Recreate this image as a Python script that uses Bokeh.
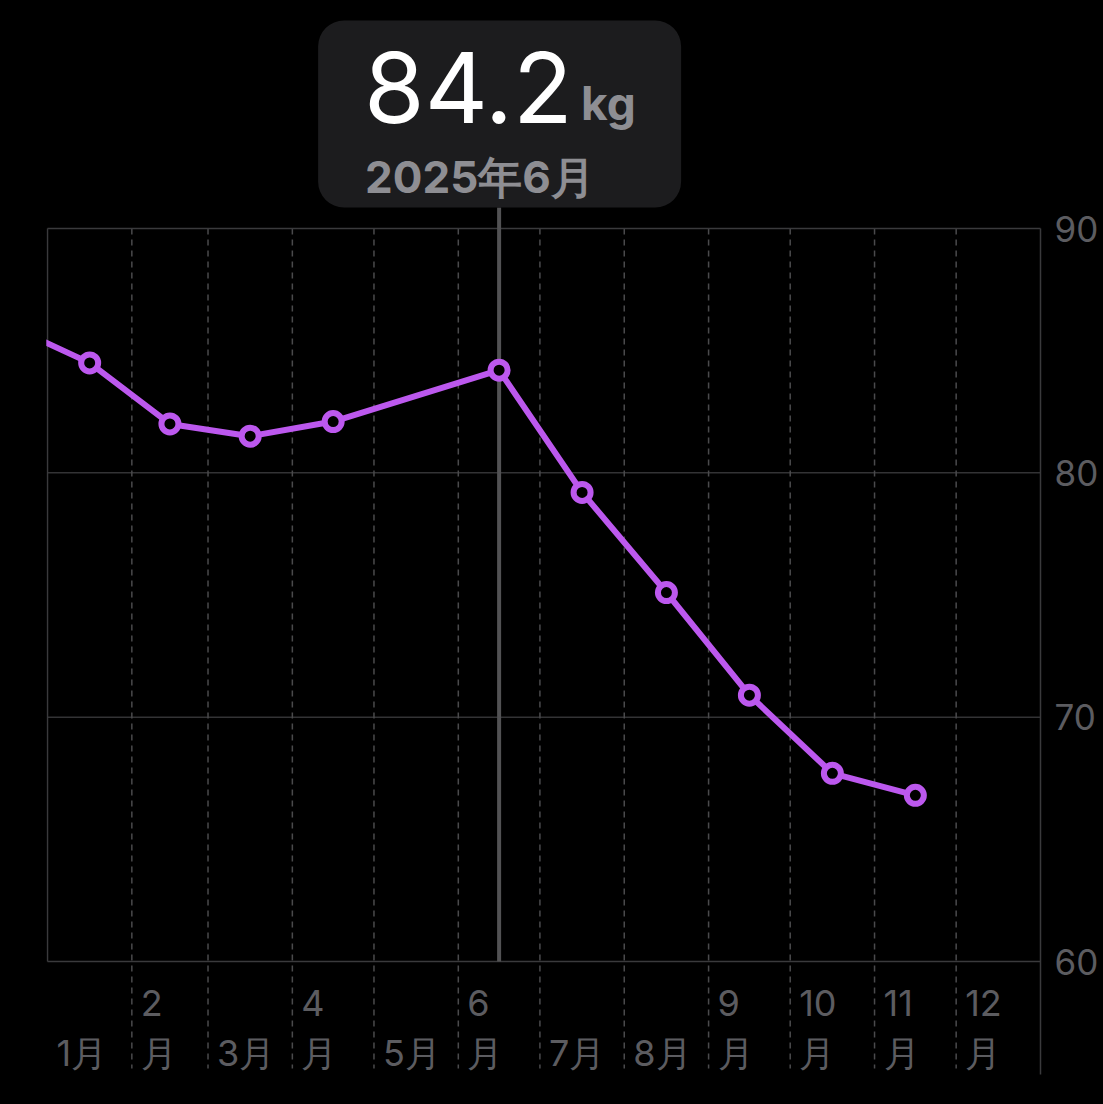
import pandas as pd
from bokeh.plotting import figure
from bokeh.models import (Range1d, Label, BoxAnnotation, ColumnDataSource,
                          CDSView, BooleanFilter)
from bokeh.core.properties import value
from bokeh.embed import file_html
from bokeh.resources import INLINE

# ---------------- data ----------------
months = ["2024-12", "2025-01", "2025-02", "2025-03", "2025-04", "2025-06",
          "2025-07", "2025-08", "2025-09", "2025-10", "2025-11"]
weights = [86.1, 84.5, 82.0, 81.5, 82.1, 84.2, 79.2, 75.1, 70.9, 67.7, 66.8]
axis_months = ["2025-01", "2025-02", "2025-03", "2025-04", "2025-05", "2025-06",
               "2025-07", "2025-08", "2025-09", "2025-10", "2025-11", "2025-12"]
axis_labels = ["1月", "2\n月", "3月", "4\n月", "5月", "6\n月",
               "7月", "8月", "9\n月", "10\n月", "11\n月", "12\n月"]
y_ticks = [60, 70, 80, 90]
selected = "2025-06"
unit = "kg"

# ---------------- style / geometry ----------------
W, H = 1103, 1104
PL, PT, PR, PB = 47, 228, 1040, 961      # plot-area edges (px)
PURPLE = "#BC58EE"
GRID = "#333335"
BORDER = "#3a3a3c"
DASH = "#4a4a4c"
LABEL = "#5c5c60"
FONT = "Inter"


def ms(ts):
    return pd.Timestamp(ts).value / 1e6


def month_start(m):
    return pd.Period(m, "M").start_time


def month_mid(m):
    s = pd.Period(m, "M").start_time
    e = (pd.Period(m, "M") + 1).start_time
    return s + (e - s) / 2


x0 = ms(month_start(axis_months[0]))
x1 = ms((pd.Period(axis_months[-1], "M") + 1).start_time)
y0, y1 = min(y_ticks), max(y_ticks)
mpp = (x1 - x0) / (PR - PL)       # ms per pixel
kpp = (y1 - y0) / (PB - PT)       # kg per pixel

xs = [ms(month_mid(m)) for m in months]
src = ColumnDataSource(dict(x=xs, y=weights))
in_window = CDSView(filter=BooleanFilter([x0 <= v <= x1 for v in xs]))

p = figure(width=W, height=H, output_backend="svg", toolbar_location=None,
           x_range=Range1d(x0 - PL * mpp, x1 + (W - PR) * mpp),
           y_range=Range1d(y0 - (H - PB) * kpp, y1 + PT * kpp),
           x_axis_location=None, y_axis_location=None, min_border=0)
p.background_fill_color = "#000000"
p.border_fill_color = "#000000"
p.outline_line_color = None
for g in p.grid:
    g.visible = False

# horizontal grid lines
inner = y_ticks[1:-1]
p.segment(x0=[x0] * len(inner), y0=inner, x1=[x1] * len(inner), y1=inner,
          line_color=GRID, line_width=1.5)

# vertical dashed month boundaries (extend into label area)
boundaries = [ms(month_start(m)) for m in axis_months[1:]]
ext_y = y0 - 107 * kpp
p.segment(x0=boundaries, y0=[y1] * len(boundaries), x1=boundaries,
          y1=[ext_y] * len(boundaries), line_color=DASH, line_width=1.5,
          line_dash="6 5")

# plot borders
p.segment(x0=[x0, x0, x0, x1], y0=[y1, y0, y0, y0 - 113 * kpp],
          x1=[x1, x1, x0, x1], y1=[y1, y0, y1, y1],
          line_color=BORDER, line_width=1.5)

# selection cursor
si = months.index(selected)
sx = xs[si]
box_bottom = y1 + 21 * kpp
box_top = y1 + 208 * kpp
p.segment(x0=[sx], y0=[y0], x1=[sx], y1=[box_bottom], line_color="#525254",
          line_width=4)

# line (clipped to the year window by the mask below) and markers
p.line("x", "y", source=src, line_color=PURPLE, line_width=6,
       line_join="round")
p.quad(left=[x0 - 200 * mpp], right=[x0 - 1.2 * mpp], bottom=[y0 - 5 * kpp],
       top=[y1], fill_color="#000000", line_color=None)
p.scatter("x", "y", source=src, view=in_window, size=17,
          fill_color="#000000", line_color=PURPLE, line_width=6)

# tooltip
p.add_layout(BoxAnnotation(left=sx - 181 * mpp, right=sx + 182 * mpp,
                           bottom=box_bottom, top=box_top,
                           fill_color="#1c1c1e", fill_alpha=1.0,
                           line_color=None, border_radius=26))
sel_p = pd.Period(selected, "M")
p.add_layout(Label(x=sx, y=y1 + 141 * kpp, x_offset=-135,
                   text=f"{weights[si]:.1f}", text_font=FONT,
                   text_font_size="98px", text_color="#ffffff",
                   text_align="left", text_baseline="middle"))
p.add_layout(Label(x=sx, y=y1 + 126 * kpp, x_offset=82, text=unit,
                   text_font=FONT, text_font_size="46px",
                   text_font_style="bold", text_color="#8e8e93",
                   text_align="left", text_baseline="middle"))
p.add_layout(Label(x=sx, y=y1 + 52 * kpp, x_offset=-134,
                   text=f"{sel_p.year}年{sel_p.month}月", text_font=FONT,
                   text_font_size="44px", text_font_style="bold",
                   text_color="#8e8e93", text_align="left",
                   text_baseline="middle"))

# right-hand value labels
p.text(x=[x1] * len(y_ticks), y=y_ticks, text=[str(t) for t in y_ticks],
       x_offset=14, text_font=value(FONT), text_font_size="35px",
       text_color=LABEL, text_align="left", text_baseline="middle")

# month labels
lx, ly, lt = [], [], []
for m, lab in zip(axis_months, axis_labels):
    bx = ms(month_start(m))
    for k, ln in enumerate(reversed(lab.split("\n"))):
        lx.append(bx)
        ly.append(y0 - (91 - 50 * k) * kpp)
        lt.append(ln)
p.text(x=lx, y=ly, text=lt, x_offset=9, text_font=value(FONT),
       text_font_size="36px", text_color=LABEL, text_align="left",
       text_baseline="middle")

html = file_html(p, INLINE, title="weight")
html = html.replace("</head>",
                    "<style>html,body{background:#000000;overflow:hidden;}</style></head>", 1)
open("out.html", "w").write(html)
